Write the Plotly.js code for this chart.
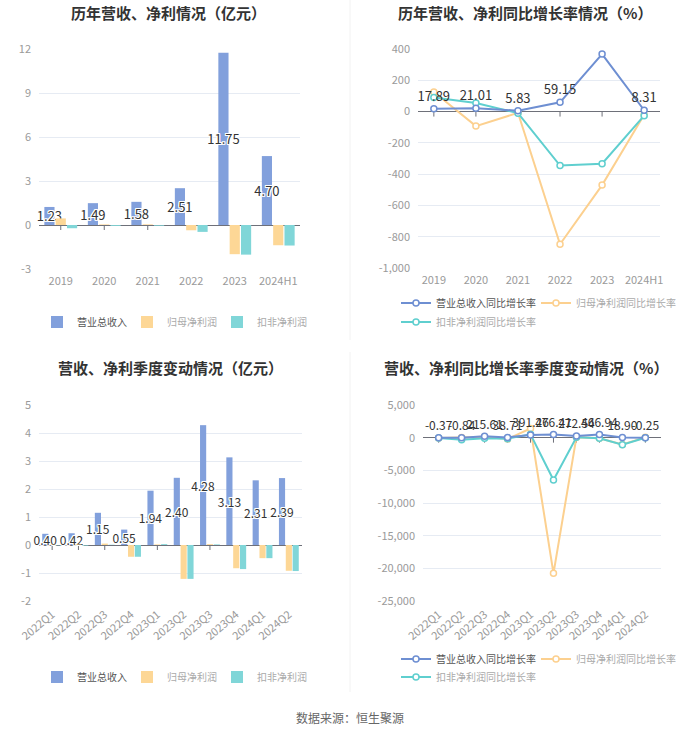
<!DOCTYPE html>
<html><head><meta charset="utf-8">
<script src="https://cdn.plot.ly/plotly-3.0.1.min.js"></script>
<style>html,body{margin:0;padding:0;background:#fff}#chart{width:700px;height:734px}</style>
</head><body><div id="chart"></div>
<script>
// ---- data ----
const years = ['2019','2020','2021','2022','2023','2024H1'];
const revenue = [1.23, 1.49, 1.58, 2.51, 11.75, 4.70];
const netProfit = [0.45, 0.04, 0.045, -0.36, -1.99, -1.38];
const deductedProfit = [-0.22, -0.06, -0.05, -0.47, -2.02, -1.40];

const revenueGrowth = [17.89, 21.01, 5.83, 59.15, 367.71, 8.31];
const netGrowth = [125, -93, -8, -848, -470, -20];
const deductedGrowth = [90, 55, -10, -345, -333, -26];

const quarters = ['2022Q1','2022Q2','2022Q3','2022Q4','2023Q1','2023Q2','2023Q3','2023Q4','2024Q1','2024Q2'];
const qRevenue = [0.40, 0.42, 1.15, 0.55, 1.94, 2.40, 4.28, 3.13, 2.31, 2.39];
const qNetProfit = [0.01, 0.02, 0.05, -0.42, 0.02, -1.21, 0.03, -0.83, -0.47, -0.92];
const qDeductedProfit = [-0.01, -0.02, 0.01, -0.42, 0.03, -1.21, 0.02, -0.86, -0.47, -0.93];

const qRevenueGrowth = [-0.37, -0.84, 215.61, 38.71, 391.26, 476.41, 272.54, 466.94, 18.90, -0.25];
const qNetGrowth = [-50, 30, 150, -200, 1400, -20770, 80, -100, -1050, 50];
const qDeductedGrowth = [-40, -300, -100, -150, 520, -6480, 60, -80, -1080, -20];

const tlTicks = [-3, 0, 3, 6, 9, 12];
const tlTickText = ['-3', '0', '3', '6', '9', '12'];
const trTicks = [-1000, -800, -600, -400, -200, 0, 200, 400];
const trTickText = ['-1,000', '-800', '-600', '-400', '-200', '0', '200', '400'];
const blTicks = [-2, -1, 0, 1, 2, 3, 4, 5];
const blTickText = ['-2', '-1', '0', '1', '2', '3', '4', '5'];
const brTicks = [-25000, -20000, -15000, -10000, -5000, 0, 5000];
const brTickText = ['-25,000', '-20,000', '-15,000', '-10,000', '-5,000', '0', '5,000'];

const names = {
  rev: '营业总收入', net: '归母净利润', ded: '扣非净利润',
  revG: '营业总收入同比增长率', netG: '归母净利润同比增长率', dedG: '扣非净利润同比增长率'
};
const titles = ['历年营收、净利情况（亿元）', '历年营收、净利同比增长率情况（%）',
  '营收、净利季度变动情况（亿元）', '营收、净利同比增长率季度变动情况（%）'];
const source = '数据来源：恒生聚源';

// ---- style ----
const W = 700, H = 734;
const px = v => v / W;
const py = v => 1 - v / H;
const FONT = '"Microsoft YaHei", "Noto Sans CJK SC", sans-serif';
const C = {rev: '#82a0dc', net: '#fdd796', ded: '#80d6d8',
  revL: '#6e8fd2', netL: '#fcd08f', dedL: '#5fcfcf'};
const grey = t => '<span style="color:#aaa">' + t + '</span>';
const SHADOW = '-1px -1px 0 #fff, 1px -1px 0 #fff, -1px 1px 0 #fff, 1px 1px 0 #fff, 0 1px 0 #fff, 0 -1px 0 #fff, 1px 0 0 #fff, -1px 0 0 #fff';

const dom = {
  tl: {x: [px(39), px(300)], y: [py(269), py(49)], r: [-3, 12]},
  tr: {x: [px(418), px(660)], y: [py(268), py(49)], r: [-1000, 400]},
  bl: {x: [px(39), px(302)], y: [py(601), py(405)], r: [-2, 5]},
  br: {x: [px(423), px(661)], y: [py(601), py(405)], r: [-25000, 5000]}
};

function barTrace(x, y, name, color, xa, ya, lg, textSize) {
  const t = {type: 'bar', x: x, y: y, name: name, marker: {color: color}, xaxis: xa, yaxis: ya, legend: lg};
  if (textSize) {
    Object.assign(t, {texttemplate: '%{y:.2f}', textposition: 'inside', insidetextanchor: 'middle',
      constraintext: 'none', textangle: 0, cliponaxis: false,
      insidetextfont: {family: FONT, size: textSize, color: '#333', shadow: SHADOW}});
  } else {
    t.textposition = 'none';
  }
  return t;
}
function lineTrace(x, y, name, color, xa, ya, lg, textSize, z) {
  const t = {type: 'scatter', x: x, y: y, name: name, xaxis: xa, yaxis: ya, legend: lg,
    mode: textSize ? 'lines+markers+text' : 'lines+markers',
    line: {color: color, width: 2},
    marker: {symbol: 'circle', size: 6, color: '#fff', line: {color: color, width: 1.5}},
    cliponaxis: false, zorder: z || 0};
  if (textSize) {
    t.texttemplate = '%{y:.2f}';
    t.textposition = 'top center';
    t.textfont = {family: FONT, size: textSize, color: '#333'};
  }
  return t;
}

const traces = [
  barTrace(years, revenue, names.rev, C.rev, 'x', 'y', 'legend', 13),
  barTrace(years, netProfit, grey(names.net), C.net, 'x', 'y', 'legend', 0),
  barTrace(years, deductedProfit, grey(names.ded), C.ded, 'x', 'y', 'legend', 0),

  lineTrace(years, revenueGrowth, names.revG, C.revL, 'x2', 'y2', 'legend2', 13, 1),
  lineTrace(years, netGrowth, grey(names.netG), C.netL, 'x2', 'y2', 'legend2', 0, 0),
  lineTrace(years, deductedGrowth, grey(names.dedG), C.dedL, 'x2', 'y2', 'legend3', 0, 0),

  barTrace(quarters, qRevenue, names.rev, C.rev, 'x3', 'y3', 'legend4', 12),
  barTrace(quarters, qNetProfit, grey(names.net), C.net, 'x3', 'y3', 'legend4', 0),
  barTrace(quarters, qDeductedProfit, grey(names.ded), C.ded, 'x3', 'y3', 'legend4', 0),

  lineTrace(quarters, qRevenueGrowth, names.revG, C.revL, 'x4', 'y4', 'legend5', 12, 1),
  lineTrace(quarters, qNetGrowth, grey(names.netG), C.netL, 'x4', 'y4', 'legend5', 0, 0),
  lineTrace(quarters, qDeductedGrowth, grey(names.dedG), C.dedL, 'x4', 'y4', 'legend6', 0, 0)
];

function xAxis(d, ya, angle) {
  return {domain: d.x, anchor: ya, type: 'category', showgrid: false, showline: false, zeroline: false,
    ticks: '', tickangle: angle, tickfont: {family: FONT, size: 11, color: '#9a9a9a'},
    ticklabelstandoff: 4, fixedrange: true};
}
function yAxis(d, xa, tv, tt) {
  return {domain: d.y, anchor: xa, range: d.r, autorange: false, tickmode: 'array', tickvals: tv, ticktext: tt,
    showgrid: true, gridcolor: '#e6ebf3', gridwidth: 1, zeroline: true, zerolinecolor: '#6e7079', zerolinewidth: 1,
    showline: false, ticks: '', tickfont: {family: FONT, size: 11, color: '#9a9a9a'}, ticklabelstandoff: 7, fixedrange: true};
}
function legend(x, y, anchor, ew) {
  return {x: x, y: y, xanchor: anchor, yanchor: 'middle', orientation: 'h', bgcolor: 'rgba(0,0,0,0)',
    font: {family: FONT, size: 10, color: '#555'}, itemwidth: 30, entrywidth: ew, entrywidthmode: 'pixels',
    itemclick: false, itemdoubleclick: false};
}
function title(t, x, y) {
  return {text: '<b>' + t + '</b>', x: px(x), y: py(y), xref: 'paper', yref: 'paper', xanchor: 'center', yanchor: 'middle',
    showarrow: false, font: {family: FONT, size: 15, color: '#333'}};
}
// small tick marks hanging under the zero line at each category (by category index)
function zeroTicks(cats, xa, ya) {
  return cats.map((c, i) => ({type: 'line', xref: xa, yref: ya, x0: i, x1: i, ysizemode: 'pixel', yanchor: 0,
    y0: 0, y1: -5, layer: 'between', line: {color: '#6e7079', width: 1}}));
}

const layout = {
  width: W, height: H, margin: {l: 0, r: 0, t: 0, b: 0}, paper_bgcolor: '#fff', plot_bgcolor: 'rgba(0,0,0,0)',
  font: {family: FONT}, barmode: 'group', bargap: 0.22, bargroupgap: 0.1,
  xaxis: xAxis(dom.tl, 'y', 0), yaxis: yAxis(dom.tl, 'x', tlTicks, tlTickText),
  xaxis2: xAxis(dom.tr, 'y2', 0), yaxis2: yAxis(dom.tr, 'x2', trTicks, trTickText),
  xaxis3: xAxis(dom.bl, 'y3', -40), yaxis3: yAxis(dom.bl, 'x3', blTicks, blTickText),
  xaxis4: xAxis(dom.br, 'y4', -40), yaxis4: yAxis(dom.br, 'x4', brTicks, brTickText),
  legend: legend(px(172), py(322), 'center', 45),
  legend2: legend(px(396), py(303), 'left', 95),
  legend3: legend(px(396), py(322), 'left', 95),
  legend4: legend(px(172), py(677), 'center', 45),
  legend5: legend(px(396), py(659), 'left', 95),
  legend6: legend(px(396), py(677), 'left', 95),
  annotations: [
    title(titles[0], 168, 13), title(titles[1], 525, 13),
    title(titles[2], 170, 367), title(titles[3], 526, 367),
    {text: source, x: 0.5, y: py(717), xref: 'paper', yref: 'paper', xanchor: 'center', yanchor: 'middle',
      showarrow: false, font: {family: FONT, size: 12, color: '#666'}}
  ],
  shapes: [
    {type: 'line', xref: 'paper', yref: 'paper', x0: 0.5, x1: 0.5, y0: py(0), y1: py(340), line: {color: '#f2f2f2', width: 1}},
    {type: 'line', xref: 'paper', yref: 'paper', x0: 0.5, x1: 0.5, y0: py(352), y1: py(692), line: {color: '#f2f2f2', width: 1}}
  ].concat(zeroTicks(years, 'x', 'y'), zeroTicks(years, 'x2', 'y2'),
           zeroTicks(quarters, 'x3', 'y3'), zeroTicks(quarters, 'x4', 'y4'))
};

Plotly.newPlot('chart', traces, layout, {staticPlot: true, displayModeBar: false});
</script>
</body></html>
